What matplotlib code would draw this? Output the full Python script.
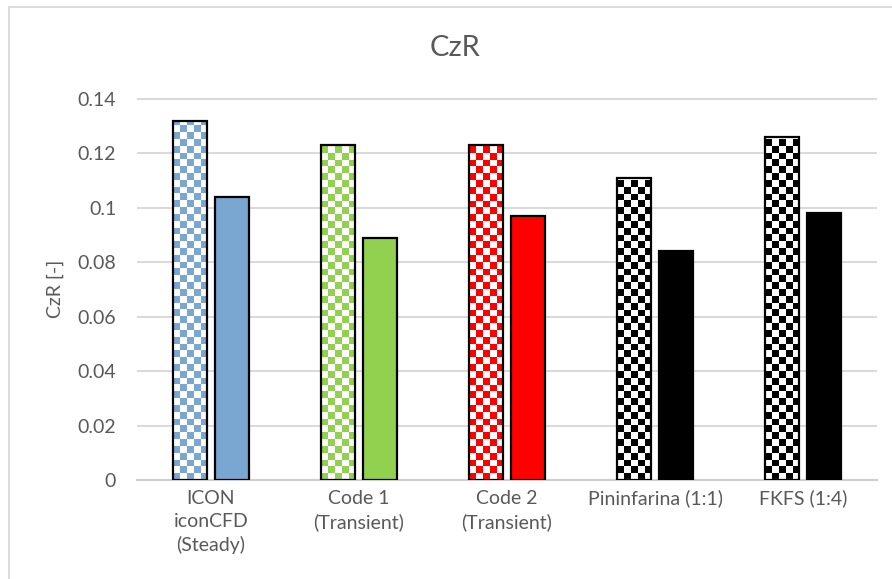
import numpy as np
import matplotlib
matplotlib.use("Agg")
import matplotlib.pyplot as plt
from matplotlib.patches import Rectangle
from matplotlib.colors import to_rgba

# ---- data ----
categories = ["ICON\niconCFD\n(Steady)", "Code 1\n(Transient)", "Code 2\n(Transient)",
              "Pininfarina (1:1)", "FKFS (1:4)"]
czr_first = [0.132, 0.123, 0.123, 0.111, 0.126]   # checkered bars
czr_second = [0.104, 0.089, 0.097, 0.084, 0.098]  # solid bars
bar_colors = ["#7AA7D1", "#92D050", "#FF0000", "#000000", "#000000"]
y_ticks = [0, 0.02, 0.04, 0.06, 0.08, 0.1, 0.12, 0.14]
y_tick_labels = ["0", "0.02", "0.04", "0.06", "0.08", "0.1", "0.12", "0.14"]

TEXT = "#595959"
GRID = "#D9D9D9"
plt.rcParams["font.family"] = ["Lato", "DejaVu Sans"]

W, H = 892, 579
fig = plt.figure(figsize=(W / 100, H / 100), dpi=100)
fig.patch.set_facecolor("white")

# chart-area frame (continues past the right and bottom edges)
fig.patches.append(Rectangle((9 / W, -0.1), 1.2, 1 - 7 / H + 0.1,
                             transform=fig.transFigure, fill=False,
                             edgecolor=GRID, linewidth=1.3, zorder=0))

ymax = 0.1415
ax_left, ax_right = 137 / W, 877 / W
ax_bottom = 1 - 480 / H
ax_top = 1 - (480 - ymax * 381 / 0.14) / H
ax = fig.add_axes([ax_left, ax_bottom, ax_right - ax_left, ax_top - ax_bottom])
ax.set_xlim(-0.5, len(categories) - 0.5)
ax.set_ylim(0, ymax)

x = np.arange(len(categories))
width = 0.23
offset = 0.142

# solid bars
ax.bar(x + offset, czr_second, width, color=bar_colors, edgecolor="black",
       linewidth=1.6, zorder=3)

# checkered bars: outline drawn by the bar, checker texture clipped to it
outline = ax.bar(x - offset, czr_first, width, facecolor="none",
                 edgecolor="black", linewidth=1.6, zorder=3)

ax_h_px = (ax_top - ax_bottom) * H
ax_w_px = (ax_right - ax_left) * W
for patch, col in zip(outline.patches, bar_colors):
    bx, bw, bh = patch.get_x(), patch.get_width(), patch.get_height()
    w_px = bw / (len(categories)) * ax_w_px
    h_px = bh / ymax * ax_h_px
    ncols = 5
    cell = w_px / ncols
    nrows = max(1, int(round(h_px / cell)))
    ii, jj = np.indices((nrows, ncols))
    mask = (ii + jj) % 2 == 0
    img = np.empty((nrows, ncols, 4))
    img[mask] = to_rgba(col)
    img[~mask] = to_rgba("white")
    im = ax.imshow(img, extent=(bx, bx + bw, 0, nrows * cell / ax_h_px * ymax),
                   origin="upper", aspect="auto", interpolation="nearest",
                   zorder=2)
    im.set_clip_path(patch)

ax.set_xlim(-0.5, len(categories) - 0.5)
ax.set_ylim(0, ymax)

# axes styling
ax.set_yticks(y_ticks, y_tick_labels)
ax.set_xticks(x, categories)
ax.yaxis.grid(True, color=GRID, linewidth=1.4, zorder=0)
ax.set_axisbelow(True)
for s in ("top", "right", "left"):
    ax.spines[s].set_visible(False)
ax.spines["bottom"].set_color("#D0D0D0")
ax.spines["bottom"].set_linewidth(1.6)
ax.tick_params(axis="both", length=0, labelsize=14, colors=TEXT)
ax.tick_params(axis="y", pad=15)
ax.tick_params(axis="x", pad=7)
for lbl in ax.get_xticklabels():
    lbl.set_linespacing(1.42)

fig.text(455 / W, 1 - 48 / H, "CzR", ha="center", va="center",
         fontsize=21, color=TEXT)
fig.text(55 / W, 1 - 289 / H, "CzR [-]", rotation=90, ha="center",
         va="center", fontsize=14, color=TEXT)

fig.savefig("out.png", dpi=100)
